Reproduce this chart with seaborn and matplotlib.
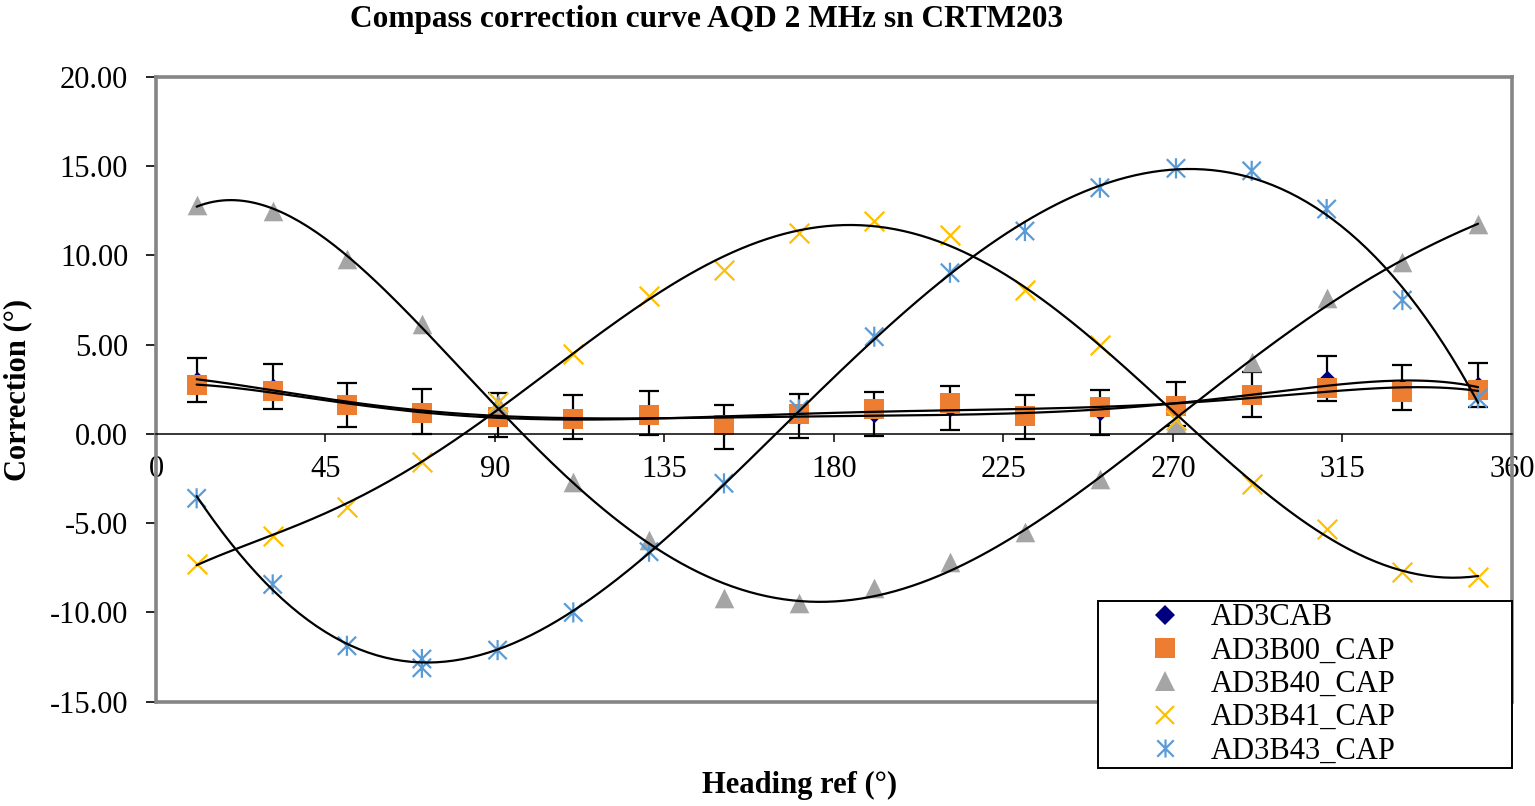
import numpy as np
import pandas as pd
import matplotlib
matplotlib.use("Agg")
import matplotlib.pyplot as plt
import seaborn as sns
from matplotlib.path import Path
from matplotlib.lines import Line2D
from matplotlib.ticker import FormatStrFormatter, MultipleLocator

# heading reference (deg) of each measurement
heading = [10.8, 31.0, 50.7, 70.6, 90.7, 110.8, 130.9, 150.8, 170.7,
           190.7, 210.8, 230.7, 250.6, 270.8, 290.9, 310.8, 330.9, 351.0]

# corrections (deg)
ad3cab = [3.00, 2.65, 1.60, 1.25, 1.07, 0.95, 1.15, 0.40, 1.00,
          1.10, 1.45, 0.95, 1.20, 1.67, 2.20, 3.10, 2.60, 2.72]
ad3cab_err = 1.24
ad3b00 = [2.74, 2.39, 1.60, 1.19, 0.97, 0.82, 1.06, 0.52, 1.13,
          1.42, 1.71, 0.98, 1.53, 1.55, 2.16, 2.59, 2.33, 2.48]
ad3b40 = [12.81, 12.49, 9.79, 6.13, 1.70, -2.72, -5.95, -9.21, -9.49,
          -8.65, -7.20, -5.48, -2.53, 0.59, 4.00, 7.62, 9.60, 11.75]
ad3b41 = [-7.29, -5.72, -4.08, -1.56, 1.80, 4.47, 7.74, 9.17, 11.23,
          11.92, 11.13, 8.05, 4.97, 0.75, -2.83, -5.35, -7.72, -8.00]
# AD3B43 has two readings at the 70.6 deg heading
ad3b43_heading = heading[:4] + [70.6] + heading[4:]
ad3b43 = [-3.61, -8.43, -11.87, -12.61, -13.10, -12.11, -10.00, -6.60, -2.77,
          1.37, 5.44, 9.02, 11.36, 13.78, 14.87, 14.73, 12.59, 7.49, 1.99]

labels = ["AD3CAB", "AD3B00_CAP", "AD3B40_CAP", "AD3B41_CAP", "AD3B43_CAP"]
colors = ["#00007F", "#ED7D31", "#A5A5A5", "#FFC000", "#5B9BD5"]

# Excel-like asterisk marker: an x plus a vertical bar
asterisk = Path([(-1, -1), (1, 1), (-1, 1), (1, -1), (0, -1.1), (0, 1.1)],
                [Path.MOVETO, Path.LINETO] * 3)

sns.set_theme(style="white")
plt.rcParams["font.family"] = ["Liberation Serif", "DejaVu Serif"]
plt.rcParams["axes.unicode_minus"] = False
plt.rcParams["text.color"] = "black"
plt.rcParams["xtick.color"] = "black"
plt.rcParams["ytick.color"] = "black"
plt.rcParams["xtick.labelcolor"] = "black"
plt.rcParams["ytick.labelcolor"] = "black"

fig = plt.figure(figsize=(15.35, 8.06), dpi=100)
ax = fig.add_axes([0.1016, 0.1294, 0.985 - 0.1016, 0.9048 - 0.1294])

# error bars of AD3CAB (behind the markers)
ax.errorbar(heading, ad3cab, yerr=ad3cab_err, fmt="none", ecolor="black",
            elinewidth=1.6, capsize=7, capthick=1.6, zorder=1)

sns.scatterplot(x=heading, y=ad3cab, marker="D", s=80, color=colors[0],
                edgecolor=colors[0], linewidth=0, ax=ax, zorder=1.5)
sns.scatterplot(x=heading, y=ad3b00, marker="s", s=200, color=colors[1],
                edgecolor=colors[1], linewidth=0, ax=ax, zorder=2)
sns.scatterplot(x=heading, y=ad3b40, marker="^", s=200, color=colors[2],
                edgecolor=colors[2], linewidth=0, ax=ax, zorder=2)
sns.scatterplot(x=heading, y=ad3b41, marker="x", s=200, color=colors[3],
                linewidth=1.6, ax=ax, zorder=2)
sns.scatterplot(x=ad3b43_heading, y=ad3b43, marker=asterisk, s=210,
                facecolor="none", edgecolor=colors[4], linewidth=1.6,
                ax=ax, zorder=2)

# 6th order polynomial trend lines
series = [(heading, ad3cab), (heading, ad3b00), (heading, ad3b40),
          (heading, ad3b41), (ad3b43_heading, ad3b43)]
for xs, ys in series:
    poly = np.polynomial.Polynomial.fit(xs, ys, 6)
    xf = np.linspace(min(xs), max(xs), 300)
    trend = pd.DataFrame({"x": xf, "y": poly(xf)})
    sns.lineplot(data=trend, x="x", y="y", color="black", linewidth=1.6,
                 ax=ax, zorder=3, sort=False, estimator=None)

ax.set_xlim(0, 360)
ax.set_ylim(-15, 20)
ax.xaxis.set_major_locator(MultipleLocator(45))
ax.yaxis.set_major_locator(MultipleLocator(5))
ax.yaxis.set_major_formatter(FormatStrFormatter("%.2f"))
ax.set_xlabel("")
ax.set_ylabel("")

frame = "#858585"
for side in ["top", "right", "left"]:
    ax.spines[side].set_color(frame)
    ax.spines[side].set_linewidth(2.6)
ax.spines["bottom"].set_position(("data", 0))
ax.spines["bottom"].set_color("black")
ax.spines["bottom"].set_linewidth(1.1)
ax.plot([0, 1], [0, 0], transform=ax.transAxes, color=frame, lw=2.6,
        clip_on=False, zorder=0.5)

ax.tick_params(axis="y", direction="out", length=7, width=1.2,
               color="black", labelcolor="black", pad=13, labelsize=22,
               left=True)
ax.tick_params(axis="x", direction="out", length=6, width=1.1,
               color="black", labelcolor="black", pad=9, labelsize=22,
               bottom=True)

fig.text(707 / 1535, 1 - 20 / 806, "Compass correction curve AQD 2 MHz sn CRTM203",
         ha="center", va="center", fontsize=22.6, fontweight="bold",
         color="black")
fig.text(800 / 1535, 1 - 785 / 806, "Heading ref (°)", ha="center", va="center",
         fontsize=22, fontweight="bold", color="black")
fig.text(18 / 1535, 1 - 390 / 806, "Correction (°)", ha="center", va="center",
         rotation=90, fontsize=22, fontweight="bold", color="black")

handles = [
    Line2D([], [], ls="none", marker="D", ms=10.5, color=colors[0], mew=0),
    Line2D([], [], ls="none", marker="s", ms=14, color=colors[1], mew=0),
    Line2D([], [], ls="none", marker="^", ms=14, color=colors[2], mew=0),
    Line2D([], [], ls="none", marker="x", ms=13, color=colors[3], mew=1.6),
    Line2D([], [], ls="none", marker=asterisk, ms=13, markerfacecolor="none",
           markeredgecolor=colors[4], mew=1.6),
]
leg = fig.legend(handles, labels, loc="upper left",
                 bbox_to_anchor=(1098 / 1535, 1 - 601 / 806,
                                 (1512 - 1098) / 1535, 0.0),
                 mode="expand", fontsize=22, frameon=True, fancybox=False,
                 borderpad=0.08, labelspacing=0.14, handlelength=4.2,
                 handletextpad=-0.6, borderaxespad=0.0)
leg.get_frame().set_edgecolor("black")
leg.get_frame().set_linewidth(1.4)
leg.get_frame().set_alpha(1)
for t in leg.get_texts():
    t.set_color("black")

fig.savefig("out.png", dpi=100)
